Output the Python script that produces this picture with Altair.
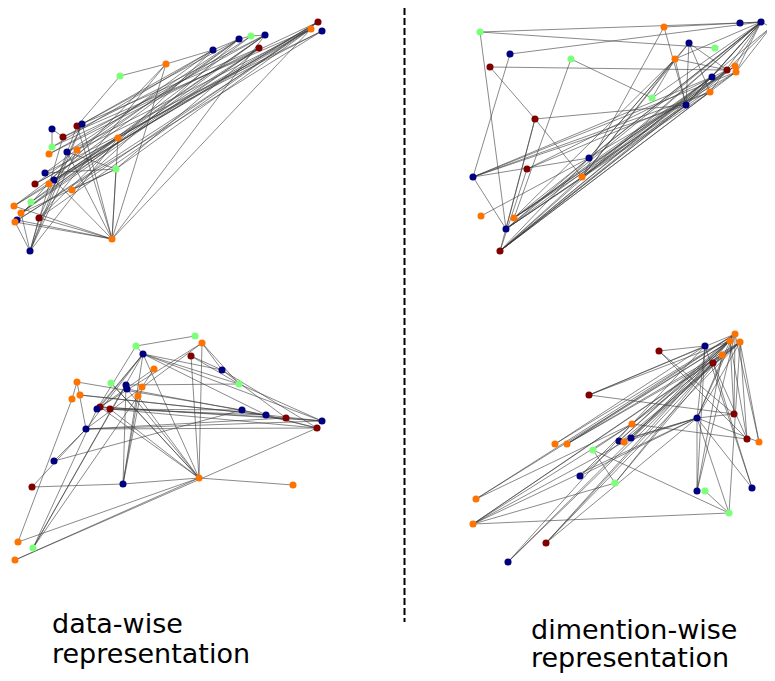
import altair as alt
import pandas as pd

# ---------------- node data (pixel-space layout coordinates) ----------------
# panel 1: data-wise (top)
p1_x = [318, 311, 322, 265, 251, 239, 259, 213, 166, 120, 52, 77, 82, 63, 118, 52, 49, 67, 77, 116,
        45, 54, 35, 49, 72, 31, 14, 21, 17, 15, 39, 112, 30]
p1_y = [22, 29, 31, 35, 36, 39, 48, 50, 64, 76, 129, 126, 124, 137, 138, 147, 154, 152, 150, 169,
        173, 180, 184, 184, 190, 202, 206, 213, 220, 222, 218, 239, 251]
p1_c = ["m", "o", "n", "n", "g", "n", "m", "n", "o", "g", "n", "m", "n", "m", "o", "g", "o", "n", "o", "g",
        "n", "n", "m", "o", "o", "g", "o", "o", "n", "o", "m", "o", "n"]
p1_e = [(9, 8), (8, 7), (7, 5), (5, 4), (4, 3), (9, 11), (31, 1), (31, 8), (31, 19), (31, 14), (31, 29),
        (31, 30), (31, 28), (31, 26), (31, 21), (31, 11), (31, 12), (31, 17), (31, 3), (32, 27), (32, 29),
        (32, 30), (32, 13), (32, 12), (32, 18), (32, 14), (26, 0), (26, 5), (27, 3), (27, 6), (29, 1),
        (28, 2), (30, 7), (30, 0), (25, 4), (25, 6), (22, 5), (22, 1), (23, 3), (23, 0), (20, 7), (20, 2),
        (21, 6), (21, 1), (24, 5), (24, 0), (16, 3), (16, 6), (17, 1), (17, 5), (18, 4), (18, 2), (15, 7),
        (15, 0), (13, 3), (13, 1), (12, 5), (12, 7), (11, 6), (10, 13), (10, 15), (14, 0), (14, 3),
        (19, 6), (19, 1), (19, 17), (19, 24), (19, 20), (8, 21), (8, 30), (14, 22), (14, 27), (11, 32),
        (26, 14), (27, 19), (29, 18), (30, 12)]

# panel 2: dimention-wise (top)
p2_x = [480, 664, 740, 761, 771, 689, 715, 510, 571, 490, 675, 735, 727, 736, 712, 710, 652, 686, 535,
        589, 527, 582, 473, 481, 514, 506, 500]
p2_y = [32, 27, 23, 22, 27, 43, 48, 54, 59, 67, 59, 66, 70, 72, 77, 92, 98, 105, 119, 158, 169, 177,
        177, 216, 218, 229, 251]
p2_c = ["g", "o", "n", "n", "o", "n", "g", "n", "g", "m", "o", "o", "m", "o", "n", "o", "g", "n", "m",
        "n", "m", "o", "n", "o", "o", "n", "m"]
p2_e = [(0, 2), (0, 6), (0, 25), (1, 3), (1, 21), (1, 17), (7, 3), (7, 22), (8, 24), (8, 16), (9, 12),
        (9, 18), (18, 21), (18, 17), (18, 26), (18, 25), (22, 17), (22, 15), (22, 14), (22, 19), (22, 25),
        (22, 13), (23, 19), (20, 26), (20, 15), (20, 12), (24, 3), (24, 14), (24, 10), (24, 12), (24, 17),
        (24, 11), (25, 3), (25, 13), (25, 14), (25, 15), (25, 19), (25, 21), (26, 3), (26, 11), (26, 12),
        (26, 13), (26, 14), (26, 15), (26, 17), (26, 21), (26, 19), (26, 4), (21, 3), (21, 12), (21, 14),
        (21, 10), (21, 5), (21, 11), (19, 3), (19, 10), (19, 5), (19, 13), (10, 12), (10, 17), (10, 16),
        (5, 17), (5, 12), (5, 15), (2, 3), (3, 4), (3, 11), (3, 13), (3, 15), (3, 14), (3, 10), (3, 17),
        (4, 13), (4, 12), (16, 3), (17, 3)]

# panel 3: data-wise (bottom)
p3_x = [195, 202, 136, 143, 191, 222, 154, 77, 111, 126, 127, 142, 239, 80, 72, 138, 100, 97, 110, 242,
        266, 286, 322, 317, 86, 54, 32, 123, 199, 293, 18, 33, 15]
p3_y = [336, 343, 346, 354, 356, 370, 369, 382, 383, 385, 389, 387, 384, 395, 399, 396, 407, 409, 409,
        410, 415, 418, 421, 428, 429, 461, 487, 484, 478, 485, 542, 548, 560]
p3_c = ["g", "o", "g", "n", "m", "n", "o", "o", "g", "n", "n", "o", "g", "o", "o", "o", "m", "n", "m", "n",
        "n", "m", "n", "m", "n", "n", "m", "n", "o", "o", "o", "g", "o"]
p3_e = [(0, 2), (1, 12), (1, 28), (1, 24), (1, 16), (2, 17), (3, 12), (3, 20), (3, 22), (3, 27), (3, 24),
        (3, 17), (3, 31), (3, 28), (3, 16), (4, 12), (4, 28), (5, 21), (6, 11), (7, 19), (7, 24), (13, 20),
        (14, 30), (16, 22), (16, 21), (18, 23), (18, 20), (18, 28), (17, 19), (24, 23), (24, 22), (24, 21),
        (10, 28), (11, 27), (15, 27), (15, 28), (9, 31), (9, 27), (26, 27), (26, 24), (27, 28), (28, 29),
        (28, 32), (28, 30), (28, 16), (28, 8), (25, 19), (25, 24), (32, 23), (31, 15), (31, 17), (12, 22),
        (12, 9), (21, 22), (19, 23), (20, 23), (8, 28), (2, 3), (1, 5), (3, 5), (5, 23), (6, 17), (13, 22),
        (7, 14), (10, 20), (4, 5)]

# panel 4: dimention-wise (bottom)
p4_x = [735, 730, 740, 705, 659, 722, 713, 589, 734, 697, 632, 631, 619, 624, 555, 567, 747, 759, 593,
        580, 615, 697, 705, 752, 729, 476, 473, 546, 508]
p4_y = [334, 341, 342, 346, 351, 355, 363, 395, 414, 418, 424, 438, 441, 442, 444, 444, 439, 442, 450,
        476, 483, 491, 491, 488, 513, 499, 524, 543, 562]
p4_c = ["o", "o", "o", "n", "m", "o", "m", "m", "m", "n", "o", "n", "n", "o", "o", "o", "m", "o", "g", "n",
        "g", "n", "g", "n", "g", "o", "o", "m", "n"]
p4_e = [(7, 3), (7, 0), (7, 1), (7, 8), (4, 3), (4, 8), (4, 16), (15, 0), (15, 1), (15, 2), (15, 5),
        (14, 3), (14, 0), (25, 0), (25, 1), (25, 10), (26, 2), (26, 5), (26, 9), (26, 10), (26, 20),
        (26, 24), (26, 13), (27, 0), (27, 2), (27, 6), (27, 9), (28, 1), (28, 6), (28, 10), (18, 20),
        (18, 24), (18, 10), (19, 9), (19, 10), (19, 2), (20, 0), (20, 5), (21, 3), (21, 9), (21, 5),
        (21, 0), (22, 24), (24, 9), (24, 2), (23, 9), (23, 3), (9, 0), (9, 1), (9, 2), (9, 8), (9, 12),
        (9, 13), (9, 3), (9, 17), (9, 11), (10, 0), (10, 1), (10, 2), (10, 16), (10, 3), (11, 0), (11, 2),
        (12, 0), (12, 1), (13, 2), (13, 5), (16, 2), (16, 1), (17, 0), (17, 2), (8, 0), (8, 1), (6, 16),
        (6, 23)]

group_names = ["n", "g", "o", "m"]
group_colors = ["#000080", "#7cff79", "#ff7400", "#800000"]

labels_text = ["data-wise", "representation", "dimention-wise", "representation"]
labels_x = [52, 52, 531, 531]
labels_y = [633, 663, 639, 667]

panels = [(p1_x, p1_y, p1_c, p1_e), (p2_x, p2_y, p2_c, p2_e),
          (p3_x, p3_y, p3_c, p3_e), (p4_x, p4_y, p4_c, p4_e)]

node_rows, edge_rows = [], []
for k, (xs, ys, cs, es) in enumerate(panels):
    for i in range(len(xs)):
        node_rows.append({"panel": k, "x": xs[i], "y": ys[i], "grp": cs[i]})
    for a, b in es:
        edge_rows.append({"panel": k, "x": xs[a], "y": ys[a], "x2": xs[b], "y2": ys[b]})
nodes = pd.DataFrame(node_rows)
edges = pd.DataFrame(edge_rows)
labels = pd.DataFrame({"t": labels_text, "x": labels_x, "y": labels_y})
divider = pd.DataFrame({"x": [404.5], "y": [8], "y2": [622]})

W, H = 759, 665
xs = alt.Scale(domain=[8, 8 + W], nice=False, zero=False)
ys = alt.Scale(domain=[8 + H, 8], nice=False, zero=False)

edge_layer = alt.Chart(edges).mark_rule(color="#3a3a3a", strokeWidth=0.8, opacity=0.75).encode(
    x=alt.X("x:Q", scale=xs, axis=None), y=alt.Y("y:Q", scale=ys, axis=None),
    x2="x2:Q", y2="y2:Q")

node_layer = alt.Chart(nodes).mark_circle(size=50, opacity=1).encode(
    x=alt.X("x:Q", scale=xs, axis=None), y=alt.Y("y:Q", scale=ys, axis=None),
    color=alt.Color("grp:N", scale=alt.Scale(domain=group_names, range=group_colors), legend=None))

div_layer = alt.Chart(divider).mark_rule(color="black", strokeWidth=2, strokeDash=[7, 3]).encode(
    x=alt.X("x:Q", scale=xs, axis=None), y=alt.Y("y:Q", scale=ys, axis=None), y2="y2:Q")

text_layer = alt.Chart(labels).mark_text(align="left", baseline="alphabetic", fontSize=27,
                                         font="DejaVu Sans", color="black").encode(
    x=alt.X("x:Q", scale=xs, axis=None), y=alt.Y("y:Q", scale=ys, axis=None), text="t:N")

chart = alt.layer(edge_layer, node_layer, div_layer, text_layer).properties(
    width=W, height=H, padding=0, autosize=alt.AutoSizeParams(type="none")
).configure_view(stroke=None)

chart.save("out.html", embed_options={"renderer": "svg", "actions": False})
